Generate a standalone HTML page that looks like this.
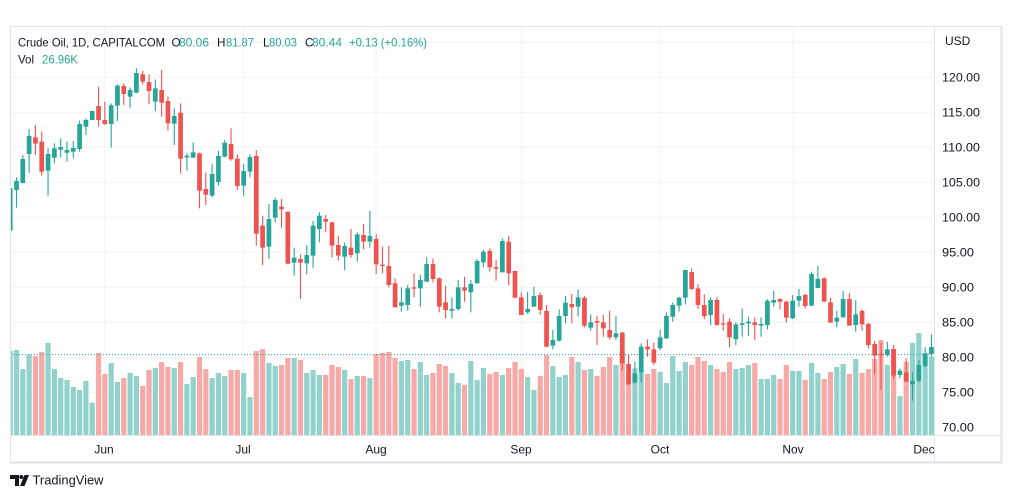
<!DOCTYPE html>
<html><head><meta charset="utf-8">
<style>
html,body{margin:0;padding:0;background:#fff;}
body{width:1012px;height:498px;overflow:hidden;}
svg{display:block;}
text{font-family:"Liberation Sans",Arial,sans-serif;}
</style></head>
<body>
<svg id="s" width="1012" height="498" viewBox="0 0 1012 498" xmlns="http://www.w3.org/2000/svg">
<defs><clipPath id="pc"><rect x="10.5" y="26" width="923.5" height="409.5"/></clipPath>
<clipPath id="tc"><rect x="10" y="436" width="924" height="26"/></clipPath></defs>
<rect x="0" y="0" width="1012" height="498" fill="#fff"/>
<!-- grid -->
<g stroke="#f0f3fa" stroke-width="1">
<line x1="10" x2="934" y1="42.3" y2="42.3"/>
<line x1="10" x2="934" y1="77.3" y2="77.3"/>
<line x1="10" x2="934" y1="112.3" y2="112.3"/>
<line x1="10" x2="934" y1="147.3" y2="147.3"/>
<line x1="10" x2="934" y1="182.3" y2="182.3"/>
<line x1="10" x2="934" y1="217.3" y2="217.3"/>
<line x1="10" x2="934" y1="252.3" y2="252.3"/>
<line x1="10" x2="934" y1="287.3" y2="287.3"/>
<line x1="10" x2="934" y1="322.3" y2="322.3"/>
<line x1="10" x2="934" y1="357.3" y2="357.3"/>
<line x1="10" x2="934" y1="392.3" y2="392.3"/>
<line x1="10" x2="934" y1="427.3" y2="427.3"/>
<line x1="104.7" x2="104.7" y1="26" y2="435"/>
<line x1="243.3" x2="243.3" y1="26" y2="435"/>
<line x1="376" x2="376" y1="26" y2="435"/>
<line x1="521.7" x2="521.7" y1="26" y2="435"/>
<line x1="660.3" x2="660.3" y1="26" y2="435"/>
<line x1="793.3" x2="793.3" y1="26" y2="435"/>
</g>
<g id="vol" clip-path="url(#pc)"></g>
<line x1="10" x2="934" y1="354.6" y2="354.6" stroke="#26a69a" stroke-width="1" stroke-dasharray="1 2"/>
<g id="cdl" clip-path="url(#pc)"></g>
<!-- frame -->
<g fill="none" stroke="#e0e3eb">
<rect x="10.5" y="26.5" width="991" height="436" stroke-width="1"/>
<line x1="10" x2="1002" y1="462.5" y2="462.5" stroke-width="2"/>
<line x1="1001.5" x2="1001.5" y1="26" y2="463" stroke-width="2"/>
<line x1="934.5" x2="934.5" y1="26" y2="463"/>
<line x1="10" x2="1002" y1="435.5" y2="435.5"/>
</g>
<!-- legend -->
<g font-size="11.7">
<text x="18" y="46.7" fill="#131722" textLength="147" lengthAdjust="spacingAndGlyphs">Crude Oil, 1D, CAPITALCOM</text>
<text x="171.5" y="46.7" fill="#131722">O</text>
<text x="179" y="46.7" fill="#26a69a" textLength="30" lengthAdjust="spacingAndGlyphs">80.06</text>
<text x="217" y="46.7" fill="#131722">H</text>
<text x="226" y="46.7" fill="#26a69a" textLength="28" lengthAdjust="spacingAndGlyphs">81.87</text>
<text x="263" y="46.7" fill="#131722">L</text>
<text x="269" y="46.7" fill="#26a69a" textLength="28" lengthAdjust="spacingAndGlyphs">80.03</text>
<text x="305" y="46.7" fill="#131722">C</text>
<text x="312" y="46.7" fill="#26a69a" textLength="30" lengthAdjust="spacingAndGlyphs">80.44</text>
<text x="349" y="46.7" fill="#26a69a" textLength="78" lengthAdjust="spacingAndGlyphs">+0.13 (+0.16%)</text>
<text x="18" y="63.3" fill="#131722" textLength="16" lengthAdjust="spacingAndGlyphs">Vol</text>
<text x="42" y="63.3" fill="#26a69a" textLength="36" lengthAdjust="spacingAndGlyphs">26.96K</text>
</g>
<!-- price axis -->
<g font-size="12" fill="#131722">
<text x="945" y="45">USD</text>
<text x="942" y="81.6" textLength="38" lengthAdjust="spacingAndGlyphs">120.00</text>
<text x="942" y="116.6" textLength="38" lengthAdjust="spacingAndGlyphs">115.00</text>
<text x="942" y="151.6" textLength="38" lengthAdjust="spacingAndGlyphs">110.00</text>
<text x="942" y="186.6" textLength="38" lengthAdjust="spacingAndGlyphs">105.00</text>
<text x="942" y="221.6" textLength="38" lengthAdjust="spacingAndGlyphs">100.00</text>
<text x="942" y="256.6" textLength="32" lengthAdjust="spacingAndGlyphs">95.00</text>
<text x="942" y="291.6" textLength="32" lengthAdjust="spacingAndGlyphs">90.00</text>
<text x="942" y="326.6" textLength="32" lengthAdjust="spacingAndGlyphs">85.00</text>
<text x="942" y="361.6" textLength="32" lengthAdjust="spacingAndGlyphs">80.00</text>
<text x="942" y="396.6" textLength="32" lengthAdjust="spacingAndGlyphs">75.00</text>
<text x="942" y="431.3" textLength="32" lengthAdjust="spacingAndGlyphs">70.00</text>
</g>
<!-- time axis -->
<g font-size="12" fill="#131722" text-anchor="middle">
<text x="104" y="453.3">Jun</text>
<text x="243" y="453.3">Jul</text>
<text x="376" y="453.3">Aug</text>
<text x="521" y="453.3">Sep</text>
<text x="660" y="453.3">Oct</text>
<text x="793" y="453.3">Nov</text>
<text x="924" y="453.3" clip-path="url(#tc)">Dec</text>
</g>
<!-- logo -->
<g fill="#131722">
<path d="M10 475 H19 V486 H15 V479 H10 Z"/>
<circle cx="21.3" cy="477" r="2"/>
<path d="M24.5 475 H29 L24.5 486 H20 Z"/>
</g>
<text x="32.5" y="484.5" font-size="13" fill="#131722" textLength="71" lengthAdjust="spacingAndGlyphs">TradingView</text>
</svg>
<script>
var D=[
['g',385,512,385,512,873],['g',352,443,363,390,870],['g',285,370,297,369,927],['g',207,338,228,282,884],
['r',195,285,232,251,888],['r',215,347,245,335,876],['g',265,407,282,332,849],['g',250,310,265,293,927],
['g',235,292,261,269,954],['g',245,305,270,278,960],['g',243,295,264,275,981],['g',182,275,192,267,990],
['g',175,225,180,200,963],['g',153,180,153,180,1028],['r',80,200,138,180,879],['r',125,195,180,192,942],
['g',130,263,136,192,909],['g',73,183,77,137,966],['r',70,135,78,102,954],['g',82,143,90,110,939],
['g',25,100,39,98,948],['r',33,73,43,65,978],['r',43,132,66,93,930],['g',58,153,85,125,924],
['r',30,170,90,128,906],['r',110,212,123,190,921],['g',145,255,168,191,924],['r',130,340,158,296,906],
['g',280,332,287,292,972],['g',247,293,277,293,951],['r',278,445,280,392,891],['r',338,435,387,404,927],
['g',313,412,342,407,954],['g',272,377,288,366,939],['g',240,292,248,290,948],['r',205,302,252,298,930],
['r',283,390,296,378,930],['g',312,407,333,377,939],['g',283,352,291,335,1011],['r',270,557,288,521,873],
['r',467,615,497,563,867],['g',432,597,477,560,909],['g',413,487,420,473,918],['r',417,503,440,448,915],
['r',455,613,455,611,894],['g',563,647,593,608,894],['r',583,717,597,608,900],['g',555,643,585,610,939],
['g',483,623,497,587,930],['g',457,547,467,507,945],['r',465,517,477,485,945],['r',485,592,487,557,915],
['r',528,602,555,587,921],['g',548,630,558,590,930],['r',507,593,563,585,957],['g',517,605,523,580,948],
['r',492,568,525,545,948],['g',453,563,528,545,954],['r',522,642,537,613,882],['r',560,640,614,618,879],
['r',558,682,618,675,876],['r',655,742,670,742,894],['g',682,755,727,737,903],['g',675,752,685,735,900],
['r',640,712,682,686,927],['g',645,740,660,685,906],['g',592,665,612,665,945],['r',595,667,612,657,939],
['r',652,757,655,740,912],['r',678,775,727,750,918],['g',712,775,747,752,939],['g',660,752,682,747,969],
['r',650,725,682,692,975],['g',660,757,672,697,903],['g',597,670,603,670,960],['g',570,622,575,607,924],
['r',565,635,573,622,942],['r',600,662,622,627,936],['g',535,637,543,637,945],['r',528,675,545,640,924],
['r',632,715,633,713,906],['r',697,765,712,765,927],['g',695,762,747,757,951],['g',680,740,708,740,990],
['r',697,765,705,750,948],['r',735,862,753,860,885],['g',810,868,840,857,918],['g',748,845,768,842,951],
['g',708,790,728,768,945],['r',702,790,732,742,891],['g',688,770,712,740,906],['r',708,802,713,797,930],
['g',763,812,787,803,927],['r',768,855,783,788,948],['r',765,830,787,805,921],['r',752,838,810,832,891],
['g',768,840,820,832,915],['r',815,932,818,910,873],['r',885,975,912,973,940],['g',905,970,940,968,925],
['g',850,967,860,937,935],['r',838,890,860,868,942],['r',848,915,868,908,927],['g',810,870,832,865,936],
['g',757,837,768,835,969],['g',727,785,735,770,888],['g',710,755,713,737,933],['g',630,733,630,713,906],
['r',625,690,636,687,915],['r',672,747,685,735,891],['r',703,778,735,768,903],['g',712,795,720,765,915],
['r',710,797,720,795,927],['r',762,812,790,793,936],['r',775,862,785,832,906],['g',787,855,793,838,927],
['g',745,830,790,795,924],['g',770,828,785,790,915],['r',772,840,787,795,909],['g',772,830,792,797,957],
['g',718,808,722,795,957],['g',692,740,720,728,945],['r',715,748,717,725,957],['r',722,788,725,773,915],
['g',705,777,722,775,933],['g',687,740,708,722,933],['r',702,745,705,738,960],['g',635,738,642,737,909],
['g',618,685,657,684,939],['r',652,725,655,725,957],['r',713,788,727,788,936],['g',752,802,773,785,921],
['g',693,773,717,772,912],['r',700,797,717,797,942],['g',720,815,763,795,897],['r',748,812,753,793,939],
['r',788,865,792,855,927],['r',843,943,852,887,897],['r',848,990,882,886,840],['g',845,890,868,885,915],
['r',855,957,867,947,870],['g',925,955,932,945,1008],['r',895,965,937,965,905],['g',935,1022,963,973,849],
['g',900,968,915,962,819],['g',862,922,880,918,880],['g',823,890,861,882,890]
];
var G='#26a69a',R='#ef5350',GV='#92d2cc',RV='#f7a9a7';
function Y(z){return 60+z/3;}
var vs='',cs='';
for(var i=0;i<D.length;i++){
 var d=D[i],cx=10.2+6.31*i,g=d[0]=='g';
 var vt=Y(d[5]);
 vs+='<rect x="'+(cx-2.6).toFixed(2)+'" y="'+vt.toFixed(2)+'" width="5.2" height="'+(435-vt).toFixed(2)+'" fill="'+(g?GV:RV)+'"/>';
 var wt=Y(d[1]),wb=Y(d[2]),bt=Y(d[3]),bb=Y(d[4]);
 var bh=Math.max(1.2,bb-bt);
 cs+='<rect x="'+(cx-0.55).toFixed(2)+'" y="'+wt.toFixed(2)+'" width="1.1" height="'+(wb-wt).toFixed(2)+'" fill="'+(g?G:R)+'"/>';
 cs+='<rect x="'+(cx-2.35).toFixed(2)+'" y="'+bt.toFixed(2)+'" width="4.7" height="'+bh.toFixed(2)+'" fill="'+(g?G:R)+'"/>';
}
document.getElementById('vol').innerHTML=vs;
document.getElementById('cdl').innerHTML=cs;
</script>
</body></html>
